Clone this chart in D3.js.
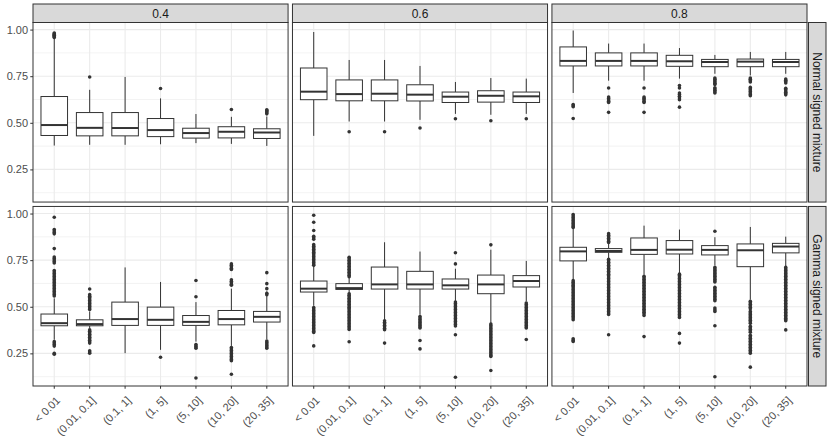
<!DOCTYPE html>
<html><head><meta charset="utf-8">
<script src="https://cdn.jsdelivr.net/npm/d3@7"></script>
<style>body{margin:0;background:#fff}svg{display:block;font-family:"Liberation Sans",Arial,Helvetica,sans-serif}</style>
</head><body><svg id="c" width="830" height="443"></svg>
<script>
const categories = ["< 0.01", "(0.01, 0.1]", "(0.1, 1]", "(1, 5]", "(5, 10]", "(10, 20]", "(20, 35]"];
const colFacets = ["0.4", "0.6", "0.8"];
const rowFacets = ["Normal signed mixture", "Gamma signed mixture"];
const yTicks = [0.25, 0.5, 0.75, 1.0];
const yTickLabels = ["0.25", "0.50", "0.75", "1.00"];
const yMinor = [0.125, 0.375, 0.625, 0.875];

// box stats per category: [lower whisker, Q1, median, Q3, upper whisker]
const normal04Stats = [
  [0.378, 0.432, 0.488, 0.641, 0.952], [0.382, 0.430, 0.473, 0.555, 0.677], [0.382, 0.430, 0.472, 0.555, 0.746],
  [0.385, 0.426, 0.461, 0.523, 0.631], [0.391, 0.418, 0.445, 0.471, 0.547], [0.387, 0.419, 0.452, 0.479, 0.532],
  [0.376, 0.416, 0.448, 0.468, 0.534]];
const normal04Out = [
  [0.958, 0.962, 0.966, 0.970, 0.974, 0.978, 0.982], [0.746], [], [0.684], [], [0.571], [0.548, 0.554, 0.560, 0.566, 0.570]];

const normal06Stats = [
  [0.430, 0.624, 0.667, 0.794, 0.987], [0.507, 0.618, 0.654, 0.730, 0.837], [0.507, 0.618, 0.656, 0.730, 0.837],
  [0.516, 0.617, 0.651, 0.704, 0.805], [0.548, 0.609, 0.640, 0.665, 0.719], [0.543, 0.611, 0.645, 0.672, 0.740],
  [0.548, 0.609, 0.642, 0.665, 0.737]];
const normal06Out = [[], [0.452], [0.452], [0.472], [0.522], [0.511], [0.522]];

const normal08Stats = [
  [0.660, 0.805, 0.832, 0.907, 0.995], [0.726, 0.805, 0.832, 0.875, 0.925], [0.726, 0.805, 0.832, 0.875, 0.925],
  [0.737, 0.803, 0.830, 0.862, 0.901], [0.763, 0.801, 0.826, 0.840, 0.864], [0.754, 0.801, 0.828, 0.842, 0.880],
  [0.763, 0.801, 0.826, 0.840, 0.880]];
const normal08Out = [
  [0.598, 0.592, 0.586, 0.523],
  [0.687, 0.638, 0.630, 0.622, 0.615, 0.609, 0.556],
  [0.687, 0.638, 0.631, 0.624, 0.616, 0.609, 0.556],
  [0.700, 0.687, 0.660, 0.652, 0.642, 0.633, 0.624, 0.584],
  [0.740, 0.733, 0.726, 0.719, 0.712, 0.706, 0.688, 0.681, 0.674, 0.667, 0.660],
  [0.740, 0.733, 0.726, 0.719, 0.690, 0.683, 0.676, 0.668, 0.660, 0.652, 0.645],
  [0.735, 0.728, 0.721, 0.714, 0.685, 0.678, 0.671, 0.664, 0.657, 0.650]];

const gamma04Stats = [
  [0.323, 0.398, 0.412, 0.461, 0.545], [0.385, 0.398, 0.407, 0.430, 0.475], [0.251, 0.400, 0.434, 0.525, 0.711],
  [0.269, 0.400, 0.430, 0.498, 0.633], [0.313, 0.400, 0.419, 0.453, 0.525], [0.290, 0.403, 0.434, 0.480, 0.597],
  [0.326, 0.418, 0.446, 0.475, 0.582]];
const gamma04Out = [
  [0.980, 0.914, 0.906, 0.898, 0.891, 0.812, 0.767, 0.759, 0.751, 0.743, 0.735, 0.694, 0.686, 0.678, 0.670, 0.662,
   0.654, 0.646, 0.638, 0.630, 0.622, 0.614, 0.606, 0.598, 0.590, 0.582, 0.574, 0.566, 0.558,
   0.313, 0.305, 0.297, 0.289, 0.250, 0.245],
  [0.595, 0.565, 0.557, 0.549, 0.541, 0.533, 0.525, 0.517, 0.509, 0.501, 0.493, 0.485,
   0.376, 0.368, 0.360, 0.352, 0.344, 0.336, 0.328, 0.320, 0.312, 0.305, 0.264, 0.257, 0.251],
  [],
  [0.229],
  [0.641, 0.554, 0.297, 0.290, 0.284, 0.278, 0.118],
  [0.730, 0.722, 0.714, 0.706, 0.700, 0.645, 0.637, 0.629, 0.621, 0.615,
   0.281, 0.273, 0.265, 0.257, 0.249, 0.241, 0.233, 0.225, 0.217, 0.211, 0.138],
  [0.683, 0.624, 0.597, 0.572, 0.565, 0.316, 0.308, 0.300, 0.292, 0.284, 0.278]];

const gamma06Stats = [
  [0.505, 0.579, 0.597, 0.638, 0.715], [0.575, 0.593, 0.600, 0.624, 0.655], [0.430, 0.595, 0.620, 0.713, 0.846],
  [0.457, 0.595, 0.620, 0.690, 0.796], [0.529, 0.595, 0.615, 0.649, 0.704], [0.412, 0.570, 0.620, 0.670, 0.806],
  [0.529, 0.606, 0.638, 0.667, 0.746]];
const gamma06Out = [
  [0.991, 0.953, 0.909, 0.878, 0.870, 0.862, 0.833, 0.825, 0.817, 0.809, 0.801, 0.793, 0.785, 0.777, 0.769, 0.761,
   0.753, 0.745, 0.737, 0.729, 0.722,
   0.496, 0.488, 0.480, 0.472, 0.464, 0.456, 0.448, 0.440, 0.432, 0.424, 0.416, 0.408, 0.400, 0.392, 0.384, 0.376,
   0.368, 0.362, 0.290],
  [0.765, 0.757, 0.749, 0.741, 0.733, 0.725, 0.717, 0.709, 0.701, 0.693, 0.685, 0.677, 0.669, 0.661,
   0.570, 0.562, 0.554, 0.546, 0.538, 0.530, 0.522, 0.514, 0.506, 0.498, 0.490, 0.482, 0.474, 0.466, 0.458, 0.450,
   0.442, 0.434, 0.426, 0.418, 0.410, 0.402, 0.394, 0.386, 0.378, 0.312],
  [0.425, 0.417, 0.409, 0.401, 0.393, 0.385, 0.377, 0.305],
  [0.448, 0.440, 0.432, 0.424, 0.416, 0.408, 0.400, 0.392, 0.386, 0.319, 0.274],
  [0.790, 0.730, 0.525, 0.517, 0.509, 0.501, 0.493, 0.485, 0.477, 0.469, 0.461, 0.453, 0.445, 0.437, 0.429, 0.421,
   0.413, 0.405, 0.397, 0.350, 0.122],
  [0.832, 0.407, 0.399, 0.391, 0.383, 0.375, 0.367, 0.359, 0.351, 0.343, 0.335, 0.327, 0.319, 0.311, 0.303, 0.295,
   0.287, 0.279, 0.271, 0.263, 0.255, 0.247, 0.239, 0.233, 0.158],
  [0.520, 0.512, 0.504, 0.496, 0.488, 0.480, 0.472, 0.464, 0.456, 0.448, 0.440, 0.432, 0.424, 0.416, 0.408, 0.400,
   0.392, 0.386, 0.324]];

const gamma08Stats = [
  [0.645, 0.746, 0.797, 0.819, 0.920], [0.760, 0.792, 0.799, 0.812, 0.840], [0.672, 0.781, 0.805, 0.869, 0.935],
  [0.681, 0.783, 0.806, 0.855, 0.914], [0.722, 0.778, 0.805, 0.828, 0.873], [0.538, 0.715, 0.803, 0.837, 0.928],
  [0.717, 0.789, 0.823, 0.840, 0.876]];
const gamma08Out = [
  [0.995, 0.987, 0.979, 0.971, 0.963, 0.955, 0.947, 0.939, 0.931, 0.925,
   0.640, 0.632, 0.624, 0.616, 0.608, 0.600, 0.592, 0.584, 0.576, 0.568, 0.560, 0.552, 0.544, 0.536, 0.528, 0.520,
   0.512, 0.504, 0.496, 0.488, 0.480, 0.472, 0.464, 0.456, 0.448, 0.440, 0.430, 0.328, 0.321, 0.314],
  [0.892, 0.884, 0.876, 0.868, 0.860, 0.852, 0.845,
   0.755, 0.747, 0.739, 0.731, 0.723, 0.715, 0.707, 0.699, 0.691, 0.683, 0.675, 0.667, 0.659, 0.651, 0.643, 0.635,
   0.627, 0.619, 0.611, 0.603, 0.595, 0.587, 0.579, 0.571, 0.563, 0.555, 0.547, 0.539, 0.531, 0.523, 0.515, 0.507,
   0.499, 0.491, 0.483, 0.475, 0.467, 0.459, 0.350],
  [0.663, 0.655, 0.647, 0.639, 0.631, 0.623, 0.615, 0.607, 0.599, 0.591, 0.583, 0.575, 0.567, 0.559, 0.551, 0.543,
   0.535, 0.527, 0.519, 0.511, 0.503, 0.495, 0.487, 0.479, 0.471, 0.463, 0.453, 0.340],
  [0.675, 0.667, 0.659, 0.651, 0.643, 0.635, 0.627, 0.619, 0.611, 0.603, 0.595, 0.587, 0.579, 0.571, 0.563, 0.555,
   0.547, 0.539, 0.531, 0.523, 0.515, 0.507, 0.499, 0.491, 0.483, 0.475, 0.467, 0.459, 0.451, 0.443, 0.357, 0.305],
  [0.905, 0.711, 0.703, 0.695, 0.687, 0.679, 0.671, 0.663, 0.655, 0.647, 0.639, 0.633,
   0.604, 0.596, 0.588, 0.580, 0.572, 0.564, 0.556, 0.548, 0.540, 0.532, 0.493, 0.484, 0.475, 0.398, 0.125],
  [0.529, 0.521, 0.513, 0.505, 0.497, 0.489, 0.475, 0.467, 0.459, 0.451, 0.443, 0.435, 0.427, 0.419, 0.411,
   0.395, 0.387, 0.379, 0.371, 0.363, 0.347, 0.339, 0.331, 0.323, 0.315, 0.307, 0.299, 0.291, 0.283, 0.275, 0.267,
   0.259, 0.251, 0.176],
  [0.711, 0.703, 0.695, 0.687, 0.679, 0.671, 0.663, 0.655, 0.647, 0.639, 0.631, 0.623, 0.615, 0.607, 0.599, 0.591,
   0.583, 0.575, 0.567, 0.559, 0.551, 0.543, 0.535, 0.527, 0.519, 0.511, 0.503, 0.495, 0.487, 0.479, 0.471, 0.463,
   0.455, 0.447, 0.439, 0.431, 0.425, 0.376]];

const panelData = [
  {row: 0, col: 0, stats: normal04Stats, out: normal04Out},
  {row: 0, col: 1, stats: normal06Stats, out: normal06Out},
  {row: 0, col: 2, stats: normal08Stats, out: normal08Out},
  {row: 1, col: 0, stats: gamma04Stats, out: gamma04Out},
  {row: 1, col: 1, stats: gamma06Stats, out: gamma06Out},
  {row: 1, col: 2, stats: gamma08Stats, out: gamma08Out}
];

// ---- layout ----
const L = 33, R = 807, T = 22.5, B = 386, gap = 4.4;
const colW = (R - L - 2 * gap) / 3;
const rowH = (B - T - gap) / 2;
const stripH = 18.5, stripW = 17.5;
const dark = "#333333", grid = "#EBEBEB", axisTxt = "#4D4D4D";

const svg = d3.select("#c");
svg.append("rect").attr("width", 830).attr("height", 443).attr("fill", "#fff");

function colX(c) { return L + c * (colW + gap); }
function rowY(r) { return T + r * (rowH + gap); }

const yDomain = [0.075, 1.038];

panelData.forEach(p => {
  const x0 = colX(p.col), y0 = rowY(p.row);
  const g = svg.append("g");
  const x = d3.scaleBand().domain(categories).range([x0, x0 + colW]).paddingInner(0).paddingOuter(0.1);
  const y = d3.scaleLinear().domain(yDomain).range([y0 + rowH, y0]);
  const xc = d => x(d) + x.bandwidth() / 2;
  const bw = x.bandwidth() * 0.75;

  // grid
  g.selectAll(".minor").data(yMinor).join("line")
    .attr("x1", x0).attr("x2", x0 + colW).attr("y1", d => y(d)).attr("y2", d => y(d))
    .attr("stroke", grid).attr("stroke-width", 0.6);
  g.selectAll(".major").data(yTicks).join("line")
    .attr("x1", x0).attr("x2", x0 + colW).attr("y1", d => y(d)).attr("y2", d => y(d))
    .attr("stroke", grid).attr("stroke-width", 1.1);
  g.selectAll(".vmajor").data(categories).join("line")
    .attr("x1", d => xc(d)).attr("x2", d => xc(d)).attr("y1", y0).attr("y2", y0 + rowH)
    .attr("stroke", grid).attr("stroke-width", 1.1);

  // boxes
  categories.forEach((cat, i) => {
    const s = p.stats[i];
    const cx = xc(cat);
    g.append("line").attr("x1", cx).attr("x2", cx).attr("y1", y(s[3])).attr("y2", y(s[4]))
      .attr("stroke", dark).attr("stroke-width", 1);
    g.append("line").attr("x1", cx).attr("x2", cx).attr("y1", y(s[1])).attr("y2", y(s[0]))
      .attr("stroke", dark).attr("stroke-width", 1);
    g.append("rect").attr("x", cx - bw / 2).attr("width", bw)
      .attr("y", y(s[3])).attr("height", y(s[1]) - y(s[3]))
      .attr("fill", "#fff").attr("stroke", dark).attr("stroke-width", 1);
    g.append("line").attr("x1", cx - bw / 2).attr("x2", cx + bw / 2).attr("y1", y(s[2])).attr("y2", y(s[2]))
      .attr("stroke", dark).attr("stroke-width", 2);
    g.selectAll(null).data(p.out[i]).join("circle")
      .attr("cx", cx).attr("cy", d => y(d)).attr("r", 1.8).attr("fill", dark);
  });

  // border
  g.append("rect").attr("x", x0).attr("y", y0).attr("width", colW).attr("height", rowH)
    .attr("fill", "none").attr("stroke", dark).attr("stroke-width", 1);

  // y axis on left column
  if (p.col === 0) {
    const ax = svg.append("g").attr("transform", `translate(${x0},0)`)
      .call(d3.axisLeft(y).tickValues(yTicks).tickFormat((d, i) => yTickLabels[i]).tickSize(2.75).tickPadding(2.2));
    ax.select(".domain").remove();
    ax.selectAll(".tick line").attr("stroke", dark);
    ax.selectAll(".tick text").attr("fill", axisTxt).style("font-size", "11px")
      .style("font-family", '"Liberation Sans",Arial,sans-serif');
  }
  // x axis on bottom row
  if (p.row === 1) {
    const ax = svg.append("g").attr("transform", `translate(0,${y0 + rowH})`)
      .call(d3.axisBottom(x).tickSize(2.75).tickPadding(0));
    ax.select(".domain").remove();
    ax.selectAll(".tick line").attr("stroke", dark);
    ax.selectAll(".tick text").attr("fill", axisTxt).style("font-size", "11px")
      .style("font-family", '"Liberation Sans",Arial,sans-serif')
      .attr("text-anchor", "end").attr("y", 0).attr("dy", "0.72em")
      .attr("transform", "translate(1,9.5) rotate(-45)");
  }
});

// top strips
colFacets.forEach((lab, c) => {
  const x0 = colX(c);
  svg.append("rect").attr("x", x0).attr("y", T - stripH).attr("width", colW).attr("height", stripH)
    .attr("fill", "#D9D9D9").attr("stroke", dark).attr("stroke-width", 1);
  svg.append("text").attr("x", x0 + colW / 2).attr("y", T - stripH / 2).attr("dy", "0.36em")
    .attr("text-anchor", "middle").attr("fill", "#1A1A1A").style("font-size", "12px").text(lab);
});
// right strips
rowFacets.forEach((lab, r) => {
  const y0 = rowY(r);
  const sx = R + 1.5;
  svg.append("rect").attr("x", sx).attr("y", y0).attr("width", stripW).attr("height", rowH)
    .attr("fill", "#D9D9D9").attr("stroke", dark).attr("stroke-width", 1);
  svg.append("text").attr("transform", `translate(${sx + stripW / 2},${y0 + rowH / 2}) rotate(90)`)
    .attr("dy", "0.36em").attr("text-anchor", "middle").attr("fill", "#1A1A1A").style("font-size", "12px").text(lab);
});
</script></body></html>
